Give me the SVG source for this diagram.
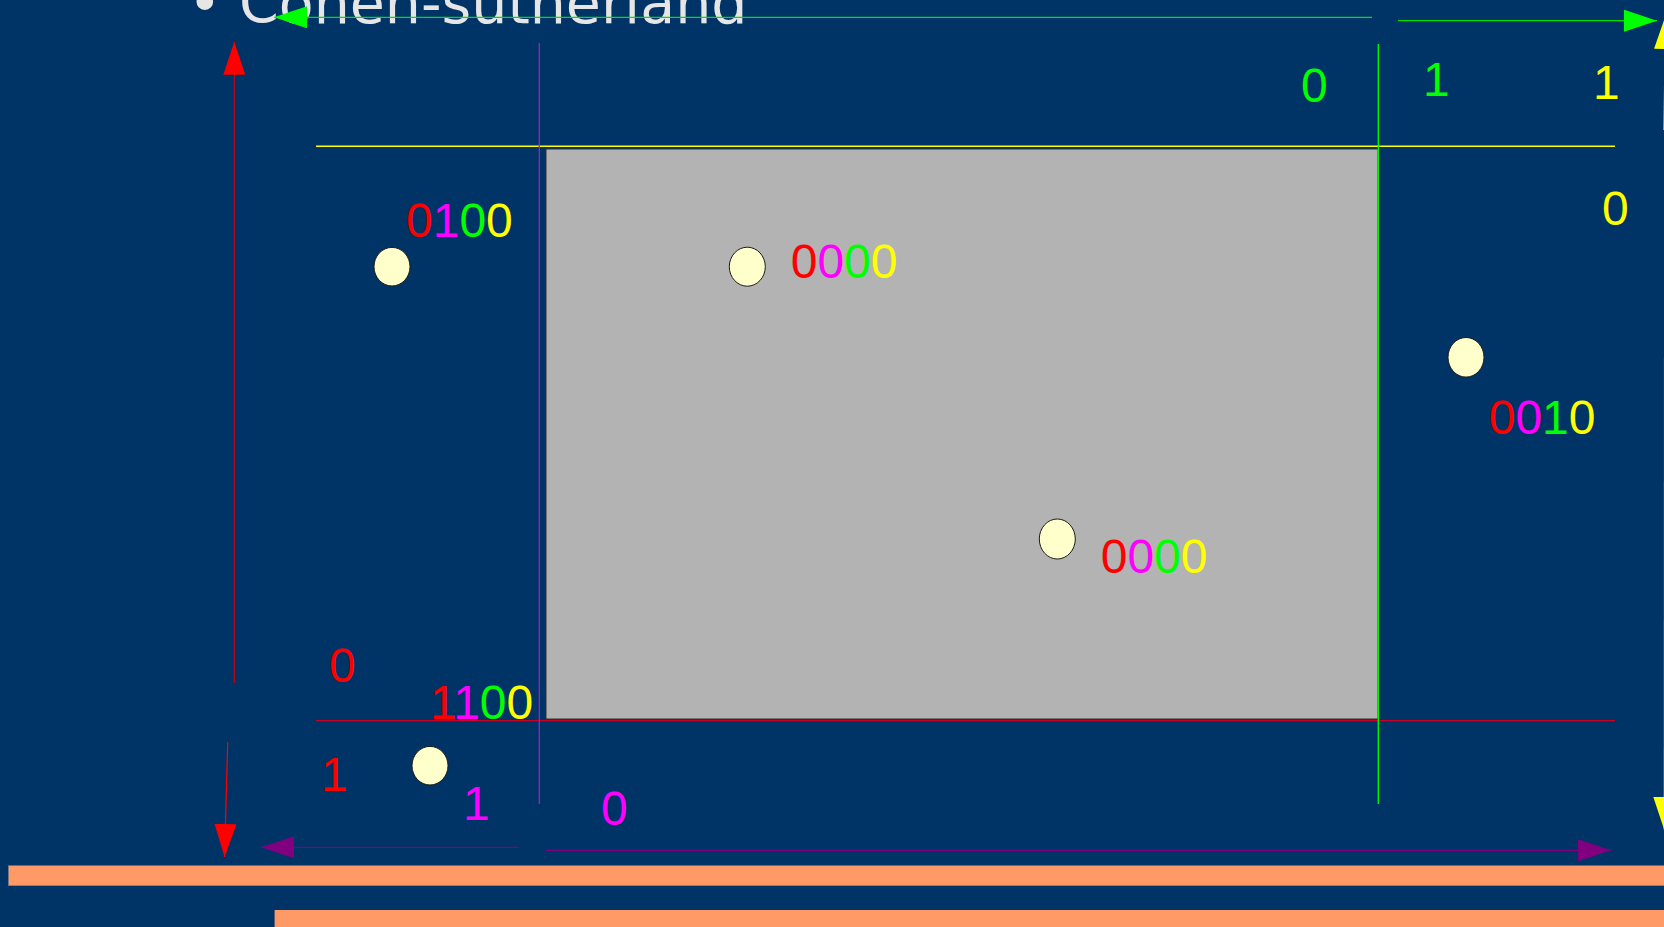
<svg xmlns="http://www.w3.org/2000/svg" width="1664" height="927" viewBox="0 0 1664 927">
<style>
.code{font-family:"Liberation Sans",Arial,sans-serif;font-size:48px}
.r{fill:#ff0000}.m{fill:#ff00ff}.g{fill:#00ff00}.y{fill:#ffff00}
.pt{fill:#ffffcc;stroke:#1a1a1a;stroke-width:1}
.ax{fill:none;stroke-width:1.2}
</style>
<defs>
<marker id="hr" markerUnits="userSpaceOnUse" markerWidth="34" markerHeight="22" refX="33" refY="11" orient="auto"><path d="M0,0 L33,11 L0,22 z" fill="#ff0000"/></marker>
<marker id="hg" markerUnits="userSpaceOnUse" markerWidth="34" markerHeight="22" refX="33" refY="11" orient="auto"><path d="M0,0 L33,11 L0,22 z" fill="#00ff00"/></marker>
<marker id="hp" markerUnits="userSpaceOnUse" markerWidth="34" markerHeight="22" refX="33" refY="11" orient="auto"><path d="M0,0 L33,11 L0,22 z" fill="#800080"/></marker>
<marker id="hy" markerUnits="userSpaceOnUse" markerWidth="34" markerHeight="22" refX="33" refY="11" orient="auto"><path d="M0,0 L33,11 L0,22 z" fill="#ffff00"/></marker>
</defs>
<rect x="0" y="0" width="1664" height="927" fill="#003366"/>
<g id="title"><text font-family="DejaVu Sans,sans-serif" font-size="57" fill="#e6e6e6" y="23"><tspan x="188">•</tspan><tspan x="239">Cohen-sutherland</tspan></text></g>
<g id="bands">
<rect x="8.5" y="865.7" width="1660" height="20" fill="#ff9966" stroke="#7a7f8a" stroke-width="0.6"/>
<rect x="274.6" y="910" width="1400" height="20" fill="#ff9966"/>
</g>
<g id="window"><rect x="546" y="149" width="832" height="570" fill="#b3b3b3" stroke="#333333" stroke-width="1"/></g>
<g id="boundaries">
<line x1="316" y1="146.3" x2="1615" y2="146.3" stroke="#ffff00" stroke-width="1.4"/>
<line x1="316" y1="720.7" x2="1615" y2="720.7" stroke="#cc0022" stroke-width="1.2"/>
<line x1="539.3" y1="43" x2="539.3" y2="804" stroke="#a020c8" stroke-width="1.3"/>
<line x1="1378.3" y1="44" x2="1378.3" y2="804" stroke="#00ff00" stroke-width="1.3"/>
</g>
<g id="connectors">
<line class="ax" x1="234.3" y1="683" x2="234.3" y2="41.7" stroke="#cc0011" marker-end="url(#hr)"/>
<line class="ax" x1="227.7" y1="742" x2="224.6" y2="857" stroke="#ff0000" marker-end="url(#hr)"/>
<line class="ax" x1="1372" y1="17.3" x2="274" y2="17.3" stroke="#00e000" marker-end="url(#hg)"/>
<line class="ax" x1="1398" y1="20.7" x2="1657" y2="20.7" stroke="#00e000" marker-end="url(#hg)"/>
<line class="ax" x1="519" y1="847.3" x2="261" y2="847.3" stroke="#800080" marker-end="url(#hp)"/>
<line class="ax" x1="546" y1="850.3" x2="1611" y2="850.3" stroke="#800080" marker-end="url(#hp)"/>
<line class="ax" x1="1664" y1="130" x2="1665.5" y2="16" stroke="#ffff00" marker-end="url(#hy)"/>
<line x1="1664.6" y1="189" x2="1664.3" y2="830" stroke="#ffff00" stroke-width="1.1" marker-end="url(#hy)"/>
</g>
<g id="p1"><ellipse class="pt" cx="392" cy="266.7" rx="18" ry="19.3"/><text class="code" x="406" y="237.3"><tspan class="r">0</tspan><tspan class="m">1</tspan><tspan class="g">0</tspan><tspan class="y">0</tspan></text></g>
<g id="p2"><ellipse class="pt" cx="747.3" cy="266.7" rx="18" ry="19.5"/><text class="code" x="790.7" y="278.3"><tspan class="r">0</tspan><tspan class="m">0</tspan><tspan class="g">0</tspan><tspan class="y">0</tspan></text></g>
<g id="p3"><ellipse class="pt" cx="1057.3" cy="539" rx="18" ry="20"/><text class="code" x="1100.7" y="573.3"><tspan class="r">0</tspan><tspan class="m">0</tspan><tspan class="g">0</tspan><tspan class="y">0</tspan></text></g>
<g id="p4"><ellipse class="pt" cx="1466" cy="357.3" rx="18" ry="19.8"/><text class="code" x="1488.7" y="434.3"><tspan class="r">0</tspan><tspan class="m">0</tspan><tspan class="g">1</tspan><tspan class="y">0</tspan></text></g>
<g id="p5"><ellipse class="pt" cx="430" cy="765.7" rx="18" ry="19.3"/><text class="code" x="430" y="719.3"><tspan class="r">1</tspan><tspan class="m">1</tspan><tspan class="g">0</tspan><tspan class="y">0</tspan></text></g>
<g id="labels">
<text class="code g" x="1301" y="102">0</text>
<text class="code g" x="1423" y="96">1</text>
<text class="code y" x="1593" y="99">1</text>
<text class="code y" x="1602" y="225">0</text>
<text class="code r" x="329" y="681.7">0</text>
<text class="code r" x="321" y="791">1</text>
<text class="code m" x="463" y="820">1</text>
<text class="code m" x="601" y="825">0</text>
</g>
</svg>
